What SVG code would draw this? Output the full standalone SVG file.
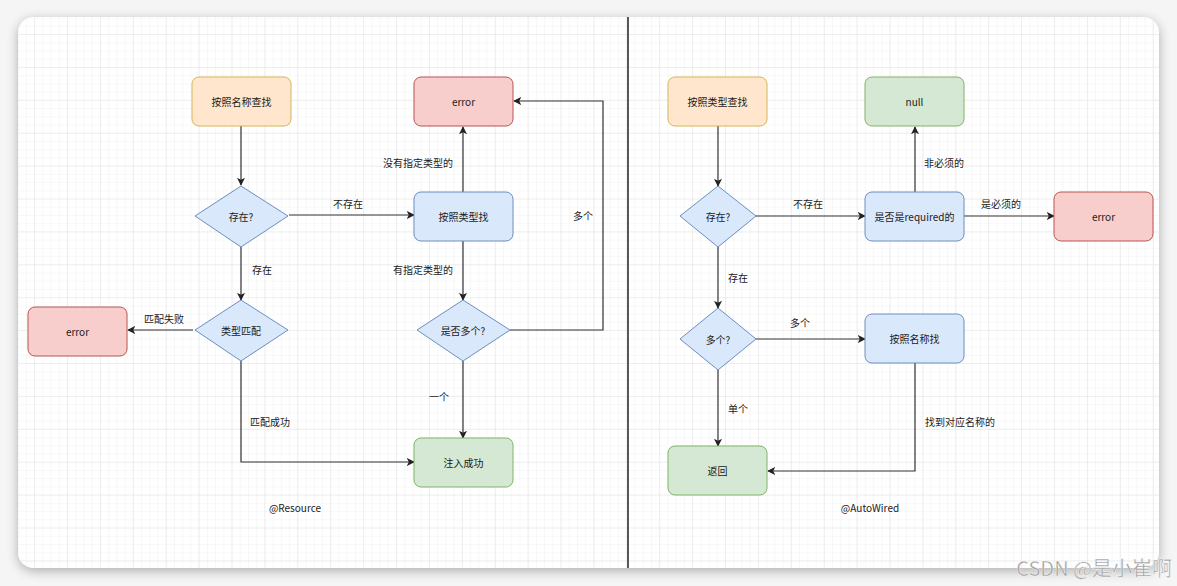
<svg xmlns="http://www.w3.org/2000/svg" width="1177" height="586" viewBox="0 0 1177 586">
<defs>
<pattern id="minor" x="2.2" y="2.1" width="8.225" height="8.225" patternUnits="userSpaceOnUse">
<path d="M8.225 0V8.225M0 8.225H8.225" fill="none" stroke="#f1f1f1" stroke-width="1"/>
</pattern>
<pattern id="major" x="2.2" y="2.1" width="32.9" height="32.9" patternUnits="userSpaceOnUse">
<path d="M32.9 0V32.9M0 32.9H32.9" fill="none" stroke="#e3e3e3" stroke-width="1"/>
</pattern>
<filter id="shadow" x="-5%" y="-5%" width="110%" height="115%">
<feGaussianBlur in="SourceAlpha" stdDeviation="6"/>
<feOffset dx="0" dy="3" result="b"/>
<feComponentTransfer><feFuncA type="linear" slope="0.3"/></feComponentTransfer>
<feMerge><feMergeNode/><feMergeNode in="SourceGraphic"/></feMerge>
</filter>
<clipPath id="cardclip"><rect x="18" y="17" width="1141" height="551" rx="16"/></clipPath>
<marker id="arr" viewBox="0 0 10 10" refX="9" refY="5" markerWidth="8" markerHeight="8" markerUnits="userSpaceOnUse" orient="auto">
<path d="M0,0 L10,5 L0,10 L2.5,5 z" fill="#222"/>
</marker>
<style>
.t{font-family:"Noto Sans CJK SC","Liberation Sans",sans-serif;font-size:10px;fill:#1a1a1a;text-anchor:middle;dominant-baseline:central}
.orange{fill:#ffe6cc;stroke:#d6b656;stroke-width:1}
.red{fill:#f8cecc;stroke:#b85450;stroke-width:1}
.blue{fill:#dae8fc;stroke:#6c8ebf;stroke-width:1}
.green{fill:#d5e8d4;stroke:#82b366;stroke-width:1}
.dia{stroke-linejoin:round}
.e{fill:none;stroke:#333;stroke-width:1.2;marker-end:url(#arr)}
</style>
</defs>
<rect width="1177" height="586" fill="#f5f5f5"/>
<g id="card">
<rect x="18" y="17" width="1141" height="551" rx="16" fill="#ffffff" filter="url(#shadow)"/>
<g clip-path="url(#cardclip)">
<rect x="18" y="17" width="1141" height="551" fill="url(#minor)"/>
<rect x="18" y="17" width="1141" height="551" fill="url(#major)"/>
</g>
<line x1="628" y1="17" x2="628" y2="568" stroke="#222" stroke-width="1.5"/>
</g>
<g id="connectors">
<path class="e" d="M241 126V185"/>
<path class="e" d="M289 215H414"/>
<path class="e" d="M241 247V300"/>
<path class="e" d="M193 330H128"/>
<path class="e" d="M241 361V462H414"/>
<path class="e" d="M463 192V127"/>
<path class="e" d="M463 241V300"/>
<path class="e" d="M510 330H603V101H514"/>
<path class="e" d="M463 361V438"/>
<path class="e" d="M718 126V186"/>
<path class="e" d="M756 216H865"/>
<path class="e" d="M915 192V127"/>
<path class="e" d="M964 216H1054"/>
<path class="e" d="M718 247V308"/>
<path class="e" d="M756 339H865"/>
<path class="e" d="M718 370V446"/>
<path class="e" d="M915 363V471H768"/>
<text class="t" x="348" y="203">不存在</text>
<text class="t" x="262" y="269">存在</text>
<text class="t" x="164" y="318">匹配失败</text>
<text class="t" x="270" y="421">匹配成功</text>
<text class="t" x="418" y="162">没有指定类型的</text>
<text class="t" x="423" y="269">有指定类型的</text>
<text class="t" x="583" y="215">多个</text>
<text class="t" x="439" y="396">一个</text>
<text class="t" x="808" y="203">不存在</text>
<text class="t" x="944" y="162">非必须的</text>
<text class="t" x="1001" y="203">是必须的</text>
<text class="t" x="738" y="277">存在</text>
<text class="t" x="800" y="322">多个</text>
<text class="t" x="738" y="408">单个</text>
<text class="t" x="960" y="421">找到对应名称的</text>
</g>
<g id="n1"><rect class="orange" x="192" y="77" width="99" height="49" rx="7"/><text class="t" x="241.5" y="101.5">按照名称查找</text></g>
<g id="n2"><path class="blue dia" d="M241 186L288 216L241 247L195 216Z"/><text class="t" x="241" y="216">存在?</text></g>
<g id="n3"><path class="blue dia" d="M241 300L288 330L241 361L195 330Z"/><text class="t" x="241" y="330">类型匹配</text></g>
<g id="n4"><rect class="red" x="28" y="307" width="99" height="49" rx="7"/><text class="t" x="77.5" y="331.5">error</text></g>
<g id="n5"><rect class="red" x="414" y="77" width="99" height="49" rx="7"/><text class="t" x="463.5" y="101.5">error</text></g>
<g id="n6"><rect class="blue" x="414" y="192" width="99" height="49" rx="7"/><text class="t" x="463.5" y="216.5">按照类型找</text></g>
<g id="n7"><path class="blue dia" d="M463 300L510 330L463 361L417 330Z"/><text class="t" x="463" y="330">是否多个?</text></g>
<g id="n8"><rect class="green" x="414" y="438" width="99" height="49" rx="7"/><text class="t" x="463.5" y="462.5">注入成功</text></g>
<g id="lbl1"><text class="t" x="295" y="507">@Resource</text></g>
<g id="m1"><rect class="orange" x="668" y="77" width="99" height="49" rx="7"/><text class="t" x="717.5" y="101.5">按照类型查找</text></g>
<g id="m2"><rect class="green" x="865" y="77" width="99" height="49" rx="7"/><text class="t" x="914.5" y="101.5">null</text></g>
<g id="m3"><path class="blue dia" d="M718 186L756 216L718 247L680 216Z"/><text class="t" x="718" y="216">存在?</text></g>
<g id="m4"><rect class="blue" x="865" y="192" width="99" height="49" rx="7"/><text class="t" x="914.5" y="216.5">是否是required的</text></g>
<g id="m5"><rect class="red" x="1054" y="192" width="99" height="49" rx="7"/><text class="t" x="1103.5" y="216.5">error</text></g>
<g id="m6"><path class="blue dia" d="M718 308L756 339L718 370L680 339Z"/><text class="t" x="718" y="339">多个?</text></g>
<g id="m7"><rect class="blue" x="865" y="314" width="99" height="49" rx="7"/><text class="t" x="914.5" y="338.5">按照名称找</text></g>
<g id="m8"><rect class="green" x="668" y="446" width="99" height="49" rx="7"/><text class="t" x="717.5" y="470.5">返回</text></g>
<g id="lbl2"><text class="t" x="870" y="507">@AutoWired</text></g>
<g id="watermark"><text x="1172" y="567" font-family="'Noto Sans CJK SC','Liberation Sans',sans-serif" font-size="20" fill="#9a9a9a" stroke="#ffffff" stroke-width="0.4" text-anchor="end" dominant-baseline="central">CSDN @是小崔啊</text></g>
</svg>
